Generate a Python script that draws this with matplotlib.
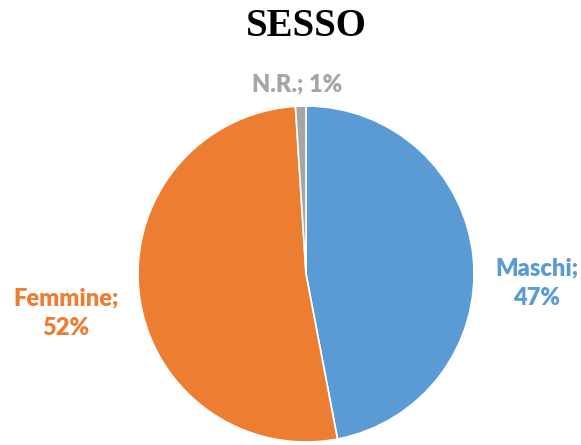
import matplotlib
matplotlib.use("Agg")
import matplotlib.pyplot as plt

categories = ["Maschi", "Femmine", "N.R."]
values = [47, 52, 1]
colors = ["#5B9BD5", "#ED7D31", "#A5A5A5"]
title = "SESSO"

W, H = 581, 445
fig = plt.figure(figsize=(W / 100, H / 100), dpi=100)
cx, cy, r = 306, 274, 168
ax = fig.add_axes([(cx - r) / W, (H - cy - r) / H, 2 * r / W, 2 * r / H])
ax.pie(values, colors=colors, startangle=90, counterclock=False,
       wedgeprops=dict(edgecolor="white", linewidth=1.2), radius=1)
ax.set_xlim(-1, 1)
ax.set_ylim(-1, 1)
ax.set_aspect("equal")
ax.axis("off")

# label positions (pixels of figure)
label_pos = {"Maschi": (537, 283), "Femmine": (66, 313), "N.R.": (297, 84)}
for cat, val, col in zip(categories, values, colors):
    px, py = label_pos[cat]
    txt = f"{cat};\n{val}%" if cat != "N.R." else f"{cat}; {val}%"
    fig.text(px / W, 1 - py / H, txt, ha="center", va="center", color=col,
             fontsize=17, fontweight="heavy", family="Lato", linespacing=1.45)

fig.text(306 / W, 1 - 26 / H, title, ha="center", va="center",
         fontsize=28, fontweight="bold", family="Liberation Serif")

fig.savefig("out.png", dpi=100)
